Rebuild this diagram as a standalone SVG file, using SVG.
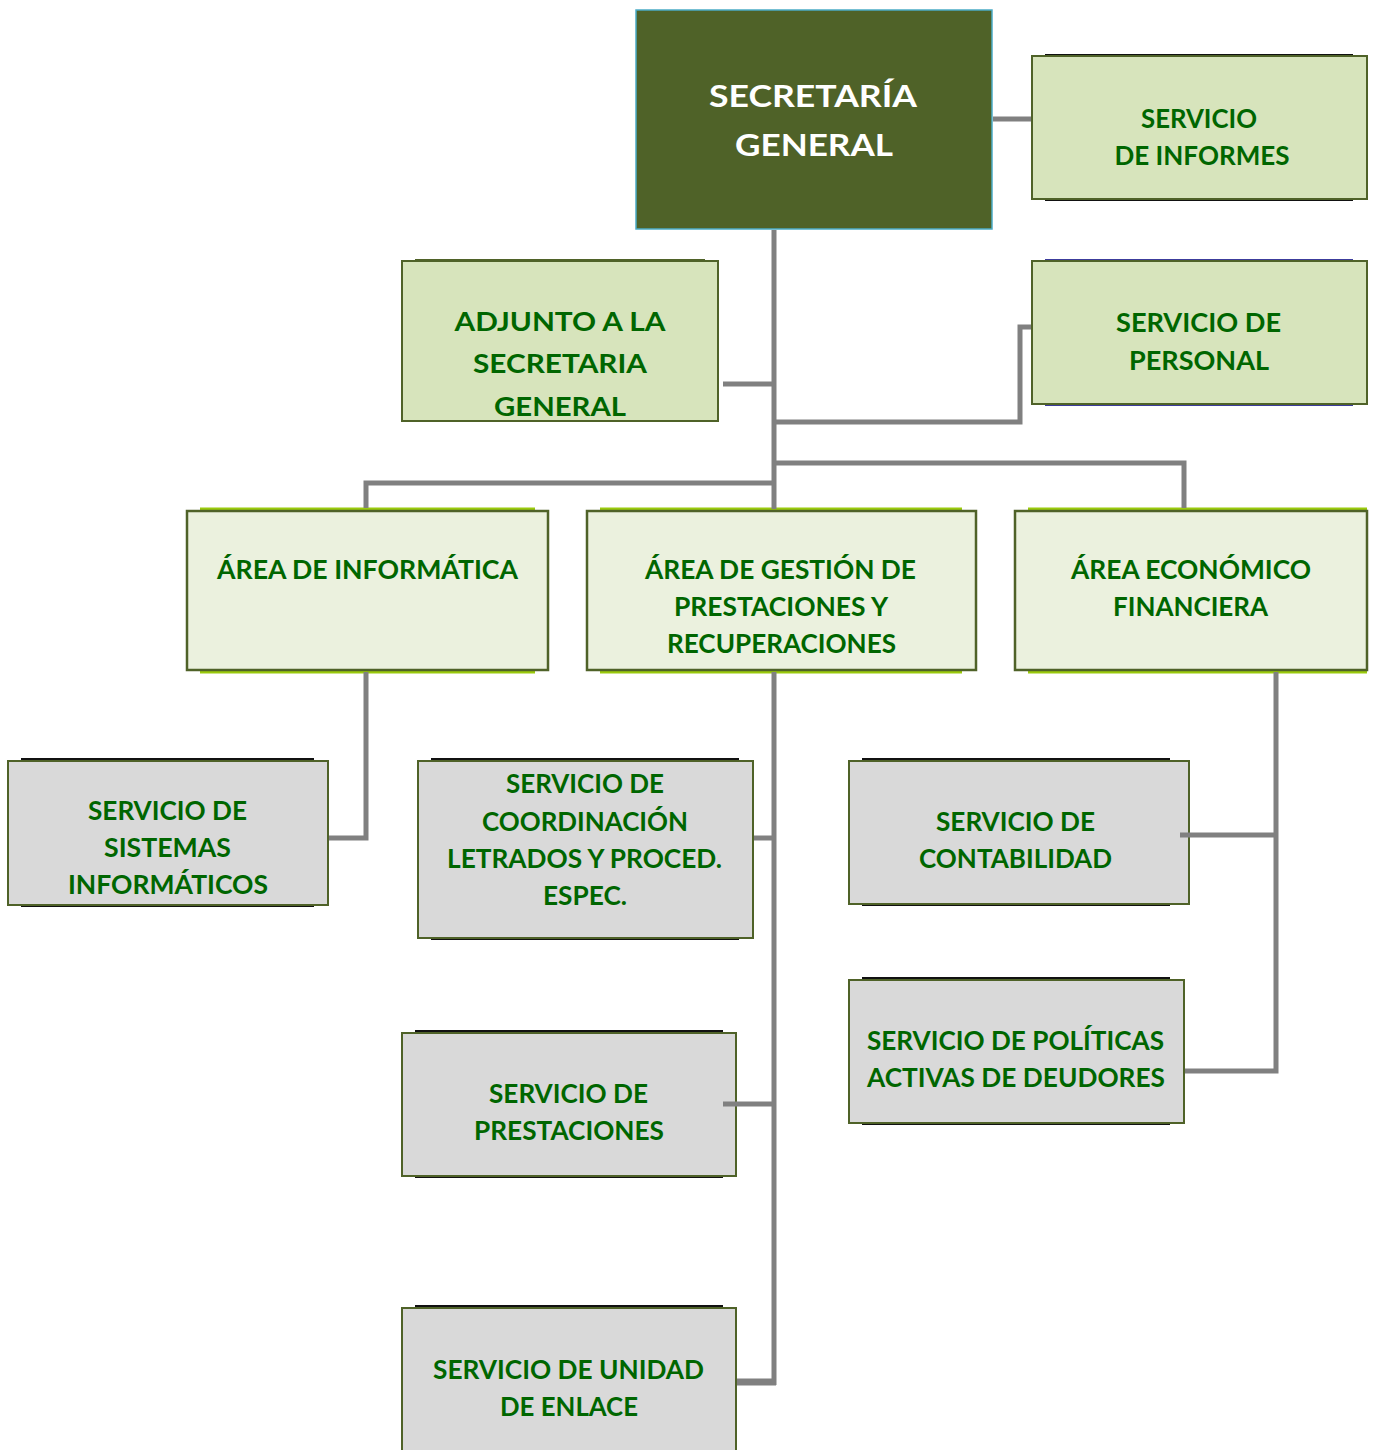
<svg xmlns="http://www.w3.org/2000/svg" width="1373" height="1450" viewBox="0 0 1373 1450">
<style>
  .t{font-family:Lato,"Open Sans","Liberation Sans",sans-serif;font-weight:bold;fill:#006600;font-size:26px;text-anchor:middle}
  .tw{fill:#ffffff;font-size:31px}
  .lg{fill:#D7E4BC;stroke:#4F6228;stroke-width:2}
  .la{fill:#EBF1DE;stroke:#4F6228;stroke-width:2.5}
  .gr{fill:#D9D9D9;stroke:#4F6228;stroke-width:2}
  .edk{stroke:#111111;stroke-width:2}
  .edg{stroke:#4F6228;stroke-width:2}
  .edb{stroke:#3c3c9c;stroke-width:2}
  .edy{stroke:#9ACA0C;stroke-width:3}
  .c{fill:none;stroke:#808080;stroke-width:5;stroke-linejoin:miter}
</style>
<rect width="1373" height="1450" fill="#ffffff"/>

<g id="secretaria-general">
  <rect x="636" y="10" width="356" height="219" fill="#4F6228" stroke="#4BACC6" stroke-width="1.5"/>
  <text class="t tw" x="813" y="107" textLength="208" lengthAdjust="spacingAndGlyphs">SECRETARÍA</text>
  <text class="t tw" x="814" y="156" textLength="158" lengthAdjust="spacingAndGlyphs">GENERAL</text>
</g>

<g id="servicio-informes">
  <line class="edk" x1="1045" y1="55" x2="1353" y2="55"/>
  <line class="edk" x1="1045" y1="200" x2="1353" y2="200"/>
  <rect class="lg" x="1032" y="56" width="335" height="143"/>
  <text class="t" x="1199" y="128" textLength="116" lengthAdjust="spacingAndGlyphs">SERVICIO</text>
  <text class="t" x="1202" y="165" textLength="175" lengthAdjust="spacingAndGlyphs">DE INFORMES</text>
</g>

<g id="adjunto">
  <line class="edg" x1="415" y1="260" x2="705" y2="260"/>
  <rect class="lg" x="402" y="261" width="316" height="160"/>
  <text class="t" x="560" y="331" textLength="211" lengthAdjust="spacingAndGlyphs">ADJUNTO A LA</text>
  <text class="t" x="560" y="373" textLength="174" lengthAdjust="spacingAndGlyphs">SECRETARIA</text>
  <text class="t" x="560" y="416" textLength="132" lengthAdjust="spacingAndGlyphs">GENERAL</text>
</g>

<g id="servicio-personal">
  <line class="edb" x1="1045" y1="260" x2="1353" y2="260"/>
  <line class="edb" x1="1045" y1="405" x2="1353" y2="405"/>
  <rect class="lg" x="1032" y="261" width="335" height="143"/>
  <text class="t" x="1198.5" y="332" textLength="165" lengthAdjust="spacingAndGlyphs">SERVICIO DE</text>
  <text class="t" x="1199" y="370" textLength="140" lengthAdjust="spacingAndGlyphs">PERSONAL</text>
</g>

<g id="area-informatica">
  <line class="edy" x1="200" y1="509" x2="535" y2="509"/>
  <line class="edy" x1="200" y1="672" x2="535" y2="672"/>
  <rect class="la" x="187" y="511" width="361" height="159"/>
  <text class="t" x="367.5" y="579" textLength="301" lengthAdjust="spacingAndGlyphs">ÁREA DE INFORMÁTICA</text>
</g>

<g id="area-gestion">
  <line class="edy" x1="600" y1="509" x2="962" y2="509"/>
  <line class="edy" x1="600" y1="672" x2="962" y2="672"/>
  <rect class="la" x="587" y="511" width="389" height="159"/>
  <text class="t" x="780.5" y="579" textLength="271" lengthAdjust="spacingAndGlyphs">ÁREA DE GESTIÓN DE</text>
  <text class="t" x="781" y="616" textLength="214" lengthAdjust="spacingAndGlyphs">PRESTACIONES Y</text>
  <text class="t" x="781.5" y="653" textLength="229" lengthAdjust="spacingAndGlyphs">RECUPERACIONES</text>
</g>

<g id="area-economico">
  <line class="edy" x1="1028" y1="509" x2="1367" y2="509"/>
  <line class="edy" x1="1028" y1="672" x2="1367" y2="672"/>
  <rect class="la" x="1015" y="511" width="352" height="159"/>
  <text class="t" x="1191" y="579" textLength="240" lengthAdjust="spacingAndGlyphs">ÁREA ECONÓMICO</text>
  <text class="t" x="1190.5" y="616" textLength="155" lengthAdjust="spacingAndGlyphs">FINANCIERA</text>
</g>

<g id="servicio-sistemas">
  <line class="edk" x1="21" y1="759" x2="314" y2="759"/>
  <line class="edk" x1="21" y1="906" x2="314" y2="906"/>
  <rect class="gr" x="8" y="761" width="320" height="144"/>
  <text class="t" x="167.5" y="820" textLength="159" lengthAdjust="spacingAndGlyphs">SERVICIO DE</text>
  <text class="t" x="167.5" y="857" textLength="127" lengthAdjust="spacingAndGlyphs">SISTEMAS</text>
  <text class="t" x="168" y="894" textLength="200" lengthAdjust="spacingAndGlyphs">INFORMÁTICOS</text>
</g>

<g id="servicio-coordinacion">
  <line class="edk" x1="431" y1="759" x2="739" y2="759"/>
  <line class="edk" x1="431" y1="939" x2="739" y2="939"/>
  <rect class="gr" x="418" y="761" width="335" height="177"/>
  <text class="t" x="585" y="793" textLength="158" lengthAdjust="spacingAndGlyphs">SERVICIO DE</text>
  <text class="t" x="585" y="831" textLength="206" lengthAdjust="spacingAndGlyphs">COORDINACIÓN</text>
  <text class="t" x="584.5" y="868" textLength="275" lengthAdjust="spacingAndGlyphs">LETRADOS Y PROCED.</text>
  <text class="t" x="585" y="905" textLength="84" lengthAdjust="spacingAndGlyphs">ESPEC.</text>
</g>

<g id="servicio-prestaciones">
  <line class="edk" x1="415" y1="1031" x2="723" y2="1031"/>
  <line class="edk" x1="415" y1="1177" x2="723" y2="1177"/>
  <rect class="gr" x="402" y="1033" width="334" height="143"/>
  <text class="t" x="568.5" y="1103" textLength="159" lengthAdjust="spacingAndGlyphs">SERVICIO DE</text>
  <text class="t" x="569" y="1140" textLength="190" lengthAdjust="spacingAndGlyphs">PRESTACIONES</text>
</g>

<g id="servicio-enlace">
  <line class="edk" x1="415" y1="1306" x2="723" y2="1306"/>
  <rect class="gr" x="402" y="1308" width="334" height="150"/>
  <text class="t" x="568.5" y="1379" textLength="271" lengthAdjust="spacingAndGlyphs">SERVICIO DE UNIDAD</text>
  <text class="t" x="569" y="1416" textLength="138" lengthAdjust="spacingAndGlyphs">DE ENLACE</text>
</g>

<g id="servicio-contabilidad">
  <line class="edk" x1="862" y1="759" x2="1170" y2="759"/>
  <line class="edk" x1="862" y1="905" x2="1170" y2="905"/>
  <rect class="gr" x="849" y="761" width="340" height="143"/>
  <text class="t" x="1015.5" y="831" textLength="159" lengthAdjust="spacingAndGlyphs">SERVICIO DE</text>
  <text class="t" x="1015.5" y="868" textLength="193" lengthAdjust="spacingAndGlyphs">CONTABILIDAD</text>
</g>

<g id="servicio-politicas">
  <line class="edk" x1="862" y1="978" x2="1170" y2="978"/>
  <line class="edk" x1="862" y1="1124" x2="1170" y2="1124"/>
  <rect class="gr" x="849" y="980" width="335" height="143"/>
  <text class="t" x="1015.5" y="1050" textLength="297" lengthAdjust="spacingAndGlyphs">SERVICIO DE POLÍTICAS</text>
  <text class="t" x="1016" y="1087" textLength="298" lengthAdjust="spacingAndGlyphs">ACTIVAS DE DEUDORES</text>
</g>

<g id="connectors">
  <path class="c" d="M993 119 H1031"/>
  <path class="c" d="M774 230 V509"/>
  <path class="c" d="M723 384 H774"/>
  <path class="c" d="M774 422 H1020 V327 H1031"/>
  <path class="c" d="M774 463 H1184 V508"/>
  <path class="c" d="M774 483 H366 V508"/>
  <path class="c" d="M366 672 V838 H329"/>
  <path class="c" d="M774 672 V1385"/>
  <path class="c" d="M754 838 H774"/>
  <path class="c" d="M723 1104 H774"/>
  <path class="c" d="M737 1382 H776" style="stroke-width:7"/>
  <path class="c" d="M1276 672 V1071 H1185"/>
  <path class="c" d="M1180 835 H1276"/>
</g>
</svg>
